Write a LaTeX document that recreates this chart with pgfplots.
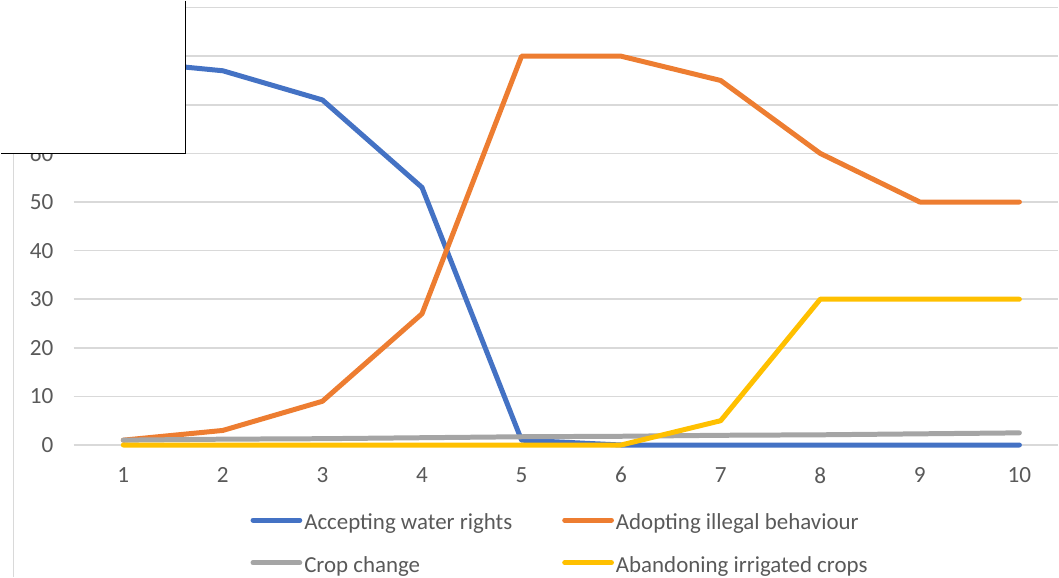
\documentclass[border=0pt]{standalone}
\usepackage{pgfplots}
\pgfplotsset{compat=1.18}
\usepackage{fontspec}
\setmainfont{Carlito}
\definecolor{cblue}{HTML}{4472C4}
\definecolor{corange}{HTML}{ED7D31}
\definecolor{cgray}{HTML}{A5A5A5}
\definecolor{cyellow}{HTML}{FFC000}
\definecolor{ctext}{HTML}{595959}
\definecolor{cgrid}{HTML}{D9D9D9}
\begin{document}
\begin{tikzpicture}[x=0.75pt,y=0.75pt]
\begin{axis}[
  at={(54.75pt,99pt)}, anchor=south west,
  scale only axis,
  width=739.5pt, height=328.5pt,
  xmin=0.5, xmax=10.39, ymin=0, ymax=90,
  xtick={1,...,10}, ytick={0,10,...,90},
  yticklabels={0,10,20,30,40,50,60,,,},
  axis line style={draw=none},
  major tick length=0pt,
  ymajorgrids,
  major grid style={color=cgrid, line width=1.2pt},
  /pgf/number format/assume math mode=true,
  tick label style={font=\fontsize{17.4}{19}\selectfont, color=ctext, inner sep=0pt},
  xticklabel shift=16.5pt,
  yticklabel shift=15pt,
  clip=false,
  legend columns=2,
  legend cell align=left,
  legend style={at={(axis description cs:0.1795,-0.3025)}, anchor=south west,
    draw=none, fill=none, inner sep=0pt,
    font=\fontsize{17.2}{19}\selectfont, text=ctext,
    row sep=16.5pt,
    nodes={inner xsep=1.5pt, inner ysep=0pt, text height=12pt, text depth=3.5pt},
    /tikz/every even column/.append style={column sep=36pt}},
  legend image code/.code={\draw[#1, line cap=round] (1.9pt,0.3em) -- (37pt,0.3em);},
  every axis plot/.append style={line width=3.75pt, line join=round, line cap=round},
]
\addplot[cblue] coordinates {(1,79) (2,77) (3,71) (4,53) (5,1) (6,0) (7,0) (8,0) (9,0) (10,0)};
\addlegendentry{Accepting water rights}
\addplot[corange] coordinates {(1,1) (2,3) (3,9) (4,27) (5,80) (6,80) (7,75) (8,60) (9,50) (10,50)};
\addlegendentry{Adopting illegal behaviour}
\addplot[cgray] coordinates {(1,1) (2,1.2) (3,1.3) (4,1.5) (5,1.7) (6,1.8) (7,2.0) (8,2.1) (9,2.3) (10,2.5)};
\addlegendentry{Crop change}
\addplot[cyellow] coordinates {(1,0) (2,0) (3,0) (4,0) (5,0) (6,0) (7,5) (8,30) (9,30) (10,30)};
\addlegendentry{Abandoning irrigated crops}
\end{axis}
\draw[color=cgrid, line width=1.2pt] (13,0) -- (13,424);
\fill[white] (0,424) rectangle (185,577);
\draw[black, line width=0.9pt] (185,577) -- (185,424) -- (0,424);
\end{tikzpicture}
\end{document}
